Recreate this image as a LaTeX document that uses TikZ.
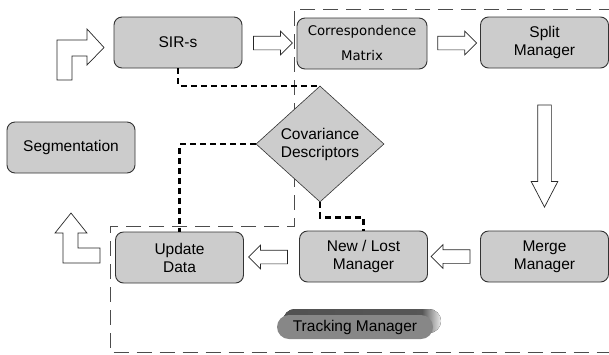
\documentclass[tikz,border=0pt]{standalone}
\usepackage{fontspec}
\setmainfont{Liberation Sans}
\newfontfamily\corrfont{DejaVu Sans}
\usetikzlibrary{shapes.geometric,shapes.arrows,calc}
\definecolor{boxgray}{HTML}{CCCCCC}
\definecolor{edgegray}{HTML}{333333}
\pgfdeclarehorizontalshading{trackshade}{100bp}{color(0bp)=(black!68); color(25bp)=(black!68); color(69bp)=(black!66); color(75bp)=(black!8); color(100bp)=(black!8)}
\tikzset{
  box/.style={draw=edgegray, fill=boxgray, rounded corners=8pt, minimum width=128pt,
    minimum height=51pt, align=center, inner sep=0pt, line width=0.9pt,
    font=\fontsize{15.5}{18}\selectfont},
  hollow/.style={single arrow, draw=black!85, fill=white, inner xsep=0pt, inner ysep=6.5pt,
    single arrow head extend=5pt, minimum height=39pt, line width=0.7pt},
  link/.style={line width=2.4pt, dash pattern=on 6pt off 4pt},
  region/.style={draw=black!70, line width=0.8pt, dash pattern=on 15pt off 8pt},
}
\begin{document}
\begin{tikzpicture}[x=1pt,y=-1pt]
    \useasboundingbox (0,0) rectangle (609,354);
    \draw[region] (614,9) -- (294,9) -- (294,226) -- (110,226) -- (110,352.5) -- (614,352.5);

    \node[box] (sir) at (178,42.5) {SIR-s};
    \node[box, font=\corrfont\fontsize{13.3}{25}\selectfont, minimum width=130pt] (corr) at (362,43.5) {Correspondence\\Matrix};
    \node[box] (split) at (544.5,42.5) {Split\\Manager};
    \node[box] (seg) at (71,147.5) {Segmentation};
    \node[box] (update) at (179.5,257.5) {Update\\Data};
    \node[box] (newlost) at (363.5,256.5) {New / Lost\\Manager};
    \node[box] (merge) at (544.5,256.5) {Merge\\Manager};
    \node[diamond, draw=edgegray, fill=boxgray, line width=0.6pt, minimum width=128pt,
      minimum height=116pt, inner sep=0pt, align=center,
      font=\fontsize{15.5}{18}\selectfont] (cov) at (320,144) {Covariance\\Descriptors};

    \node[hollow] (a1) at ($(sir.east)!0.5!(corr.west)$) {};
    \node[hollow] (a2) at ($(corr.east)!0.5!(split.west)$) {};
    \node[hollow, rotate=-90, minimum height=102pt, single arrow head extend=6.5pt,
      single arrow tip angle=55] (a3) at ($(split.south)!0.5!(merge.north)$) {};
    \node[hollow, rotate=180] (a4) at ($(merge.west)!0.5!(newlost.east)$) {};
    \node[hollow, rotate=180] (a5) at ($(newlost.west)!0.5!(update.east)$) {};

    % bent arrows in and out
    \draw[black!85, fill=white, line width=0.7pt] (57,80) -- (57,40) -- (87,40) -- (87,29) -- (104,47.5)
      -- (87,65) -- (87,56) -- (72,56) -- (72,80) -- cycle;
    \draw[black!85, fill=white, line width=0.7pt] (55,233) -- (71,213) -- (87,233) -- (78,233) -- (78,248)
      -- (100,248) -- (100,263) -- (63,263) -- (63,233) -- cycle;

    \draw[link] (sir.south) |- (cov.north);
    \draw[link] (cov.west) -| (update.north);
    \draw[link] (cov.south) -- ++(0,15) -| (newlost.north);

    \fill[rounded corners=12pt, shading=trackshade] (283,309) rectangle (441,333);
    \node[fill=black!47, rounded corners=12pt, minimum width=156pt, minimum height=24pt,
      inner sep=0pt, font=\fontsize{15.5}{18}\selectfont] (track) at (355,327) {Tracking Manager};
\end{tikzpicture}
\end{document}
